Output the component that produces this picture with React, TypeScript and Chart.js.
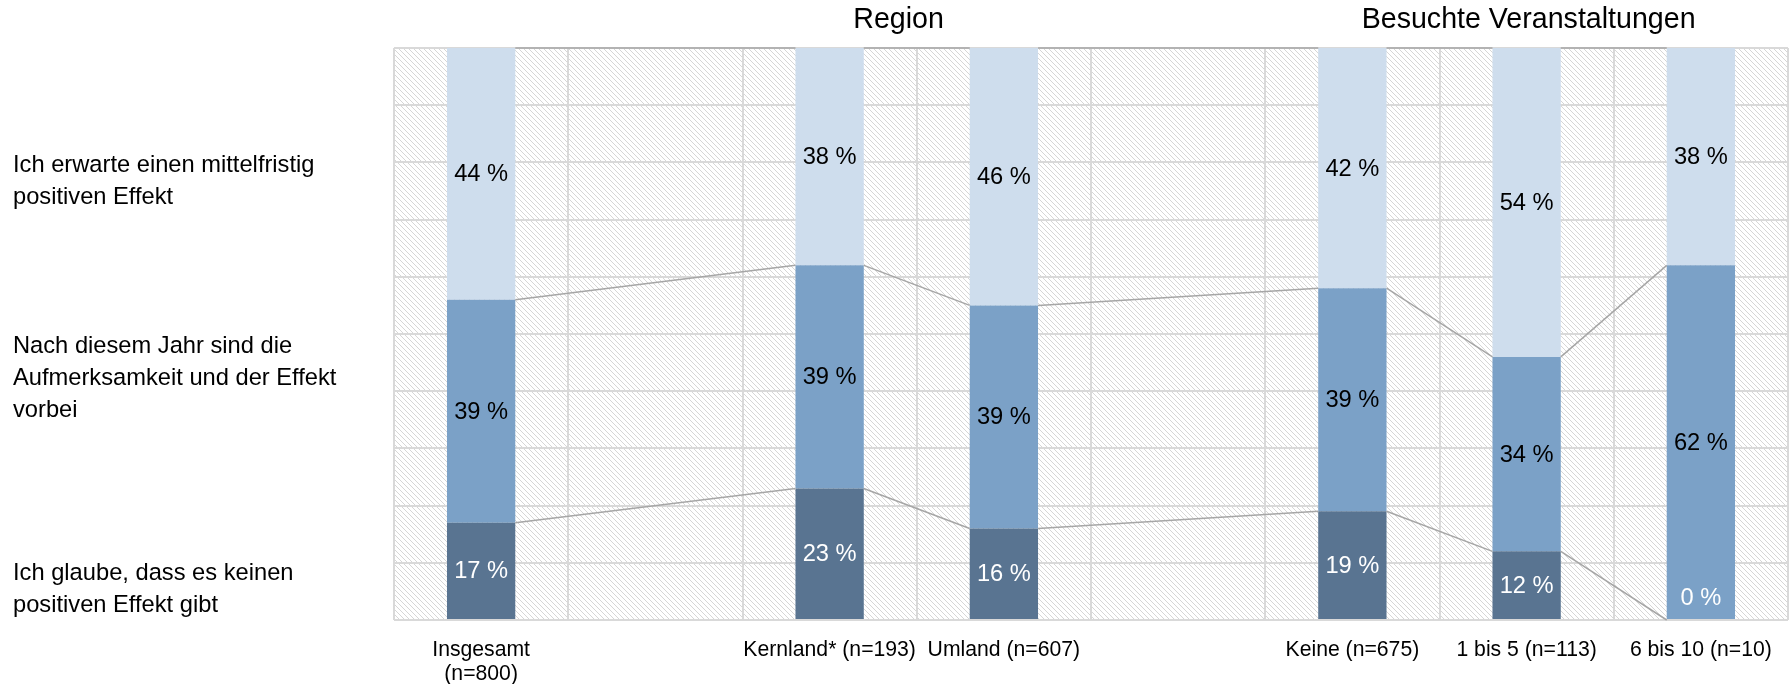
import React, { useEffect, useRef } from 'react';
import { Chart, registerables } from 'chart.js';

Chart.register(...registerables);

// ---------- data ----------
const categories: (string | string[])[] = [
  ['Insgesamt', '(n=800)'],
  '',
  'Kernland* (n=193)',
  'Umland (n=607)',
  '',
  'Keine (n=675)',
  '1 bis 5 (n=113)',
  '6 bis 10 (n=10)',
];
const keinPositiverEffekt: (number | null)[] = [17, null, 23, 16, null, 19, 12, 0];
const effektVorbei: (number | null)[] = [39, null, 39, 39, null, 39, 34, 62];
const mittelfristigPositiv: (number | null)[] = [44, null, 38, 46, null, 42, 54, 38];

const seriesNames = [
  'Ich glaube, dass es keinen positiven Effekt gibt',
  'Nach diesem Jahr sind die Aufmerksamkeit und der Effekt vorbei',
  'Ich erwarte einen mittelfristig positiven Effekt',
];
const seriesNameLines = [
  ['Ich glaube, dass es keinen', 'positiven Effekt gibt'],
  ['Nach diesem Jahr sind die', 'Aufmerksamkeit und der Effekt', 'vorbei'],
  ['Ich erwarte einen mittelfristig', 'positiven Effekt'],
];
const groupTitles = ['Region', 'Besuchte Veranstaltungen'];
const yMin = 0;
const yMax = 100;
const yStep = 10;

// ---------- styles ----------
const FONT = '"Liberation Sans", Arial, Helvetica, sans-serif';
const barColors = ['#597491', '#7ba1c7', '#cedded'];
const labelColors = ['#ffffff', '#000000', '#000000'];
const gridColor = '#d9d9d9';
const seriesLineColor = '#a6a6a6';

function makeHatch(ctx: CanvasRenderingContext2D) {
  const size = 5;
  const c = document.createElement('canvas');
  c.width = size;
  c.height = size;
  const g = c.getContext('2d')!;
  g.fillStyle = '#ffffff';
  g.fillRect(0, 0, size, size);
  g.fillStyle = '#d6d6d6';
  for (let i = 0; i < size; i++) g.fillRect(i, i, 1, 1);
  return ctx.createPattern(c, 'repeat');
}

const hatchPlugin = {
  id: 'hatchBg',
  beforeDraw(chart: any) {
    const { ctx, chartArea } = chart;
    const p = makeHatch(ctx);
    if (!p) return;
    ctx.save();
    ctx.fillStyle = p;
    ctx.fillRect(chartArea.left, chartArea.top, chartArea.right - chartArea.left, chartArea.bottom - chartArea.top);
    ctx.restore();
  },
};

const seriesLinesPlugin = {
  id: 'seriesLines',
  afterDatasetsDraw(chart: any) {
    const ctx = chart.ctx;
    const top = chart.chartArea.top;
    ctx.save();
    ctx.strokeStyle = seriesLineColor;
    ctx.lineWidth = 1.5;
    chart.data.datasets.forEach((ds: any, di: number) => {
      const meta = chart.getDatasetMeta(di);
      const idx: number[] = [];
      ds.data.forEach((v: any, i: number) => {
        if (v !== null && v !== undefined) idx.push(i);
      });
      for (let k = 0; k < idx.length - 1; k++) {
        const a = meta.data[idx[k]].getProps(['x', 'y', 'width'], true);
        const b = meta.data[idx[k + 1]].getProps(['x', 'y', 'width'], true);
        ctx.beginPath();
        ctx.moveTo(a.x + a.width / 2, Math.max(a.y, top));
        ctx.lineTo(b.x - b.width / 2, Math.max(b.y, top));
        ctx.stroke();
      }
    });
    ctx.restore();
  },
};

const segLabelPlugin = {
  id: 'segLabels',
  afterDatasetsDraw(chart: any) {
    const ctx = chart.ctx;
    const top = chart.chartArea.top;
    ctx.save();
    ctx.font = `23.7px ${FONT}`;
    ctx.textAlign = 'center';
    ctx.textBaseline = 'middle';
    chart.data.datasets.forEach((ds: any, di: number) => {
      const meta = chart.getDatasetMeta(di);
      meta.data.forEach((el: any, i: number) => {
        const v = ds.data[i];
        if (v === null || v === undefined) return;
        const { x, y, base } = el.getProps(['x', 'y', 'base'], true);
        let cy = (Math.max(y, top) + base) / 2;
        if (v === 0) cy = base - 23;
        ctx.fillStyle = labelColors[di];
        ctx.fillText(`${v} %`, x, cy + 1);
      });
    });
    ctx.restore();
  },
};

const textPlugin = {
  id: 'sideTexts',
  afterDraw(chart: any) {
    const ctx = chart.ctx;
    ctx.save();
    ctx.fillStyle = '#000000';
    ctx.textBaseline = 'alphabetic';
    ctx.textAlign = 'left';
    ctx.font = `23.7px ${FONT}`;
    const firstBaselines = [580, 352.7, 172];
    const lineGap = 32.3;
    seriesNameLines.forEach((lines, si) => {
      lines.forEach((ln, li) => {
        ctx.fillText(ln, 13, firstBaselines[si] + li * lineGap);
      });
    });
    ctx.font = `28.6px ${FONT}`;
    const titleX = [853.3, 1361.7];
    groupTitles.forEach((t, i) => ctx.fillText(t, titleX[i], 28.3));
    ctx.restore();
  },
};

export default function App() {
  const ref = useRef<HTMLCanvasElement | null>(null);

  useEffect(() => {
    document.body.style.margin = '0';
    const canvas = ref.current;
    if (!canvas) return;
    Chart.defaults.font.family = FONT;
    const series = [keinPositiverEffekt, effektVorbei, mittelfristigPositiv];
    const chart = new Chart(canvas, {
      type: 'bar',
      data: {
        labels: categories as any,
        datasets: series.map((d, i) => ({
          label: seriesNames[i],
          data: d,
          backgroundColor: barColors[i],
          borderWidth: 0,
          categoryPercentage: 1,
          barPercentage: 0.392,
        })),
      },
      options: {
        animation: false,
        responsive: false,
        maintainAspectRatio: false,
        layout: { padding: { left: 394, right: 3, top: 48, bottom: 0 } },
        plugins: {
          legend: { display: false },
          tooltip: { enabled: false },
          title: { display: false },
        },
        scales: {
          x: {
            stacked: true,
            grid: { offset: true, color: gridColor, lineWidth: 2, drawTicks: false },
            border: { display: false },
            ticks: {
              autoSkip: false,
              maxRotation: 0,
              minRotation: 0,
              padding: 18,
              color: '#000000',
              font: { size: 21.2, lineHeight: '24px' as any, family: FONT },
            },
            afterFit: (s: any) => {
              s.height = 64;
            },
          },
          y: {
            stacked: true,
            min: yMin,
            max: yMax,
            ticks: { display: false, stepSize: yStep },
            grid: { color: gridColor, lineWidth: 2, drawTicks: false },
            border: { display: false },
            afterFit: (s: any) => {
              s.width = 0;
            },
          },
        },
      },
      plugins: [hatchPlugin, seriesLinesPlugin, segLabelPlugin, textPlugin],
    });
    return () => chart.destroy();
  }, []);

  return (
    <div style={{ position: 'fixed', left: 0, top: 0, width: 1791, height: 684, background: '#ffffff' }}>
      <canvas ref={ref} width={1791} height={684} style={{ display: 'block', width: 1791, height: 684 }} />
    </div>
  );
}
